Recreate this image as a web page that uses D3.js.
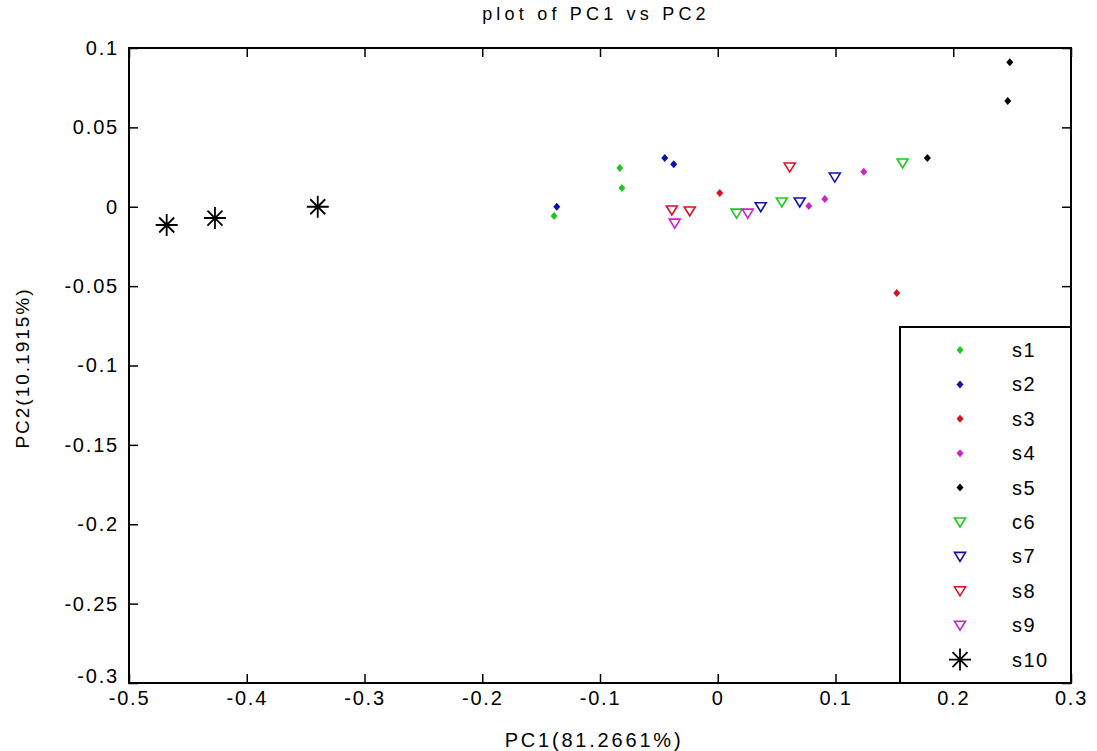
<!DOCTYPE html>
<html><head><meta charset="utf-8">
<script src="https://cdn.jsdelivr.net/npm/d3@7"></script>
<style>
body{margin:0;background:#fff;}
svg{display:block;}
text{font-family:"Liberation Sans",Arial,sans-serif;fill:#000;}
</style></head>
<body><svg id="c" width="1097" height="751"></svg>
<script>
const title = "plot of PC1 vs PC2";
const xLabel = "PC1(81.2661%)";
const yLabel = "PC2(10.1915%)";
const xTicks = [-0.5,-0.4,-0.3,-0.2,-0.1,0,0.1,0.2,0.3];
const xTickLabels = ["-0.5","-0.4","-0.3","-0.2","-0.1","0","0.1","0.2","0.3"];
const yTicks = [0.1,0.05,0,-0.05,-0.1,-0.15,-0.2,-0.25,-0.3];
const yTickLabels = ["0.1","0.05","0","-0.05","-0.1","-0.15","-0.2","-0.25","-0.3"];
const seriesNames = ["s1","s2","s3","s4","s5","c6","s7","s8","s9","s10"];
const seriesColors = ["#1ec81e","#1010b0","#d81020","#cc22cc","#000000","#1ec81e","#1010b0","#d81020","#cc22cc","#000000"];
const seriesMarkers = ["dot","dot","dot","dot","dot","tri","tri","tri","tri","star"];
const s1 = [[-0.0832,0.0244],[-0.0815,0.0118],[-0.139,-0.0058]];
const s2 = [[-0.0450,0.0307],[-0.0374,0.0268],[-0.1367,0.0]];
const s3 = [[0.0017,0.0087],[0.152,-0.0544]];
const s4 = [[0.124,0.022],[0.0909,0.0049],[0.0773,0.0005]];
const s5 = [[0.248,0.0911],[0.2463,0.0666],[0.178,0.0307]];
const c6 = [[0.157,0.0276],[0.016,-0.004],[0.0544,0.003]];
const s7 = [[0.0365,0.0],[0.0696,0.003],[0.0994,0.0187]];
const s8 = [[0.0611,0.025],[-0.039,-0.002],[-0.0238,-0.0027]];
const s9 = [[-0.0365,-0.0103],[0.0255,-0.004]];
const s10 = [[-0.468,-0.0115],[-0.427,-0.0071],[-0.3397,0.0]];
const seriesData = [s1,s2,s3,s4,s5,c6,s7,s8,s9,s10];

const svg = d3.select("#c");
const L=129, R=1071, T=48, B=683;
const x = d3.scaleLinear().domain([-0.5,0.3]).range([L,R]);
const y = d3.scaleLinear().domain([-0.3,0.1]).range([B,T]);

// axes
const axB = svg.append("g").attr("transform",`translate(0,${B})`)
  .call(d3.axisBottom(x).tickValues(xTicks).tickFormat((d,i)=>xTickLabels[i]).tickSizeInner(-9).tickSizeOuter(0).tickPadding(8));
const axL = svg.append("g").attr("transform",`translate(${L},0)`)
  .call(d3.axisLeft(y).tickValues(yTicks).tickFormat((d,i)=>yTickLabels[i]).tickSizeInner(-9).tickSizeOuter(0).tickPadding(10));
const axT = svg.append("g").attr("transform",`translate(0,${T})`)
  .call(d3.axisTop(x).tickValues(xTicks).tickFormat("").tickSizeInner(-9).tickSizeOuter(0));
const axR = svg.append("g").attr("transform",`translate(${R},0)`)
  .call(d3.axisRight(y).tickValues(yTicks).tickFormat("").tickSizeInner(-9).tickSizeOuter(0));
[axB,axL,axT,axR].forEach(a=>{
  a.selectAll("path.domain").remove();
  a.selectAll("line").attr("stroke","#000").attr("stroke-width",1.5);
  a.selectAll("text").attr("font-family","Liberation Sans, Arial, sans-serif")
    .attr("font-size","20px").attr("letter-spacing","1.8px").attr("fill","#000");
});
axB.selectAll("text").attr("dy","0.71em");
axL.selectAll("text").filter(d=>d===-0.3).attr("dy","-0.05em");
svg.append("rect").attr("x",L).attr("y",T).attr("width",R-L).attr("height",B-T)
  .attr("fill","none").attr("stroke","#000").attr("stroke-width",2);

// markers
function drawMarker(g,type,color,cx,cy){
  if(type==="dot"){
    g.append("path").attr("d",`M${cx},${cy-4}L${cx+3.5},${cy}L${cx},${cy+4}L${cx-3.5},${cy}Z`).attr("fill",color);
  } else if(type==="tri"){
    g.append("path").attr("d",`M${cx-5.5},${cy-4}L${cx+5.5},${cy-4}L${cx},${cy+5}Z`)
      .attr("fill","none").attr("stroke",color).attr("stroke-width",1.6);
  } else {
    const r=11, rd=7.5;
    g.append("path").attr("d",`M${cx-r},${cy}L${cx+r},${cy}M${cx},${cy-r}L${cx},${cy+r}M${cx-rd},${cy-rd}L${cx+rd},${cy+rd}M${cx-rd},${cy+rd}L${cx+rd},${cy-rd}`)
      .attr("stroke",color).attr("stroke-width",1.8);
  }
}
const pg = svg.append("g");
seriesData.forEach((arr,i)=>{
  arr.forEach(p=>drawMarker(pg,seriesMarkers[i],seriesColors[i],x(p[0]),y(p[1])));
});

// legend
const lg = svg.append("g");
lg.append("rect").attr("x",900).attr("y",327).attr("width",171).attr("height",356)
  .attr("fill","#fff").attr("stroke","#000").attr("stroke-width",2);
seriesNames.forEach((n,i)=>{
  const yy = 350 + i*34.4;
  drawMarker(lg,seriesMarkers[i],seriesColors[i],960,yy);
  lg.append("text").attr("x",1012).attr("y",yy).attr("dy","0.35em")
    .attr("font-size","20px").attr("letter-spacing","1.5px").text(n);
});

// labels
svg.append("text").attr("x",596).attr("y",20).attr("text-anchor","middle")
  .attr("font-size","18px").attr("letter-spacing","4.2px").text(title);
svg.append("text").attr("x",594).attr("y",747).attr("text-anchor","middle")
  .attr("font-size","20px").attr("letter-spacing","2.8px").text(xLabel);
svg.append("text").attr("transform","translate(29,368) rotate(-90)").attr("text-anchor","middle")
  .attr("font-size","19px").attr("letter-spacing","2px").text(yLabel);
</script></body></html>
